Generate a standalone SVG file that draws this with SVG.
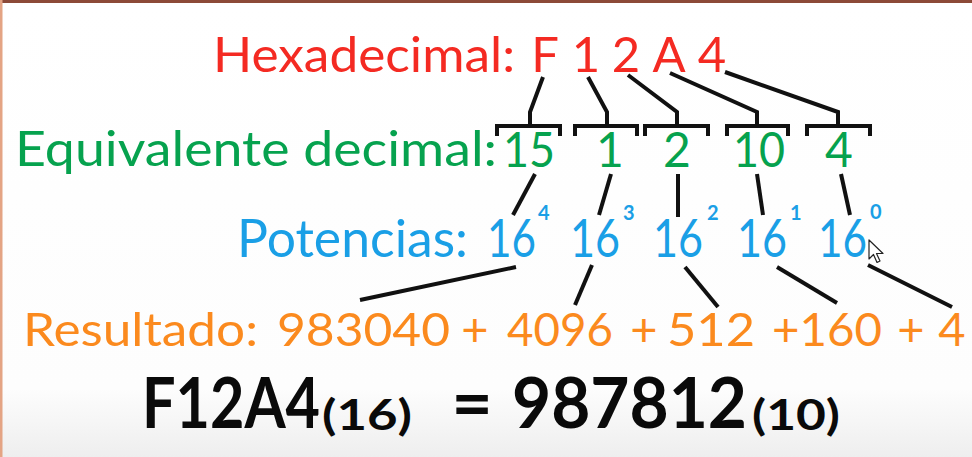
<svg xmlns="http://www.w3.org/2000/svg" width="972" height="457" viewBox="0 0 972 457">
<defs>
<linearGradient id="bg" x1="0" y1="0" x2="0" y2="1">
<stop offset="0" stop-color="#ffffff"/>
<stop offset="0.85" stop-color="#fdfdfd"/>
<stop offset="1" stop-color="#eeeeee"/>
</linearGradient>
</defs>
<style>
text{font-family:Lato,"Noto Sans","Liberation Sans",sans-serif}
.red{fill:#f42a22;font-size:49px}
.green{fill:#06a24e;font-size:48px}
.blue{fill:#1a9fe6;font-size:52px}
.sup{fill:#1a9fe6;font-size:20px;font-weight:700}
.orange{fill:#fb8a1e;font-size:47px}
.big{fill:#0a0a0a;font-size:71px;font-weight:700}
.small{fill:#0a0a0a;font-size:42px;font-weight:700}
.c{text-anchor:middle}
.ln{stroke:#111;stroke-width:4;fill:none;stroke-linejoin:miter}
</style>
<rect x="0" y="0" width="972" height="457" fill="url(#bg)"/>
<rect x="0" y="0" width="972" height="3" fill="#8c4a38"/>
<rect x="0" y="0" width="2.5" height="457" fill="#e4a484"/>

<g id="hex-row">
<text class="red" x="213" y="72" textLength="302" lengthAdjust="spacingAndGlyphs">Hexadecimal:</text>
<text class="red c" x="545" y="72">F</text>
<text class="red c" x="586" y="72">1</text>
<text class="red c" x="626" y="72">2</text>
<text class="red c" x="669" y="72">A</text>
<text class="red c" x="712" y="72">4</text>
</g>

<g id="dec-row">
<text class="green" x="15" y="166" textLength="482" lengthAdjust="spacingAndGlyphs">Equivalente decimal:</text>
<text class="green" x="503" y="167" textLength="52" lengthAdjust="spacingAndGlyphs">15</text>
<text class="green c" x="610" y="167">1</text>
<text class="green c" x="677" y="167">2</text>
<text class="green" x="733" y="167" textLength="52" lengthAdjust="spacingAndGlyphs">10</text>
<text class="green c" x="839" y="167">4</text>
</g>

<g id="pow-row">
<text class="blue" x="237" y="257" textLength="231" lengthAdjust="spacingAndGlyphs">Potencias:</text>
<text class="blue" x="487" y="257" textLength="49" lengthAdjust="spacingAndGlyphs">16</text>
<text class="sup" x="538" y="220">4</text>
<text class="blue" x="570" y="257" textLength="50" lengthAdjust="spacingAndGlyphs">16</text>
<text class="sup" x="623" y="220">3</text>
<text class="blue" x="653" y="257" textLength="50" lengthAdjust="spacingAndGlyphs">16</text>
<text class="sup" x="707" y="220">2</text>
<text class="blue" x="737" y="257" textLength="50" lengthAdjust="spacingAndGlyphs">16</text>
<text class="sup" x="790" y="220">1</text>
<text class="blue" x="818" y="257" textLength="49" lengthAdjust="spacingAndGlyphs">16</text>
<text class="sup" x="870" y="219">0</text>
</g>

<g id="result-row">
<text class="orange" x="23" y="346" textLength="235" lengthAdjust="spacingAndGlyphs">Resultado:</text>
<text class="orange" x="277" y="346" textLength="173" lengthAdjust="spacingAndGlyphs">983040</text>
<text class="orange c" x="475" y="346">+</text>
<text class="orange" x="507" y="346" textLength="106" lengthAdjust="spacingAndGlyphs">4096</text>
<text class="orange c" x="644" y="346">+</text>
<text class="orange" x="667" y="346" textLength="88" lengthAdjust="spacingAndGlyphs">512</text>
<text class="orange" x="772" y="346" textLength="110" lengthAdjust="spacingAndGlyphs">+160</text>
<text class="orange c" x="911" y="346">+</text>
<text class="orange c" x="952" y="346">4</text>
</g>

<g id="equation">
<text class="big" x="142" y="428" textLength="178" lengthAdjust="spacingAndGlyphs">F12A4</text>
<text class="small" x="322" y="430" textLength="90" lengthAdjust="spacingAndGlyphs">(16)</text>
<text class="big c" x="472" y="428">=</text>
<text class="big" x="512" y="428" textLength="235" lengthAdjust="spacingAndGlyphs">987812</text>
<text class="small" x="752" y="430" textLength="88" lengthAdjust="spacingAndGlyphs">(10)</text>
</g>

<g id="connectors">
<path class="ln" d="M497,136 V126 H560 V136 M530,126 V112 L543,77"/>
<path class="ln" d="M575,136 V126 H637 V136 M607,126 V112 L588,77"/>
<path class="ln" d="M645,136 V126 H708 V136 M677,126 V112 L628,75"/>
<path class="ln" d="M727,136 V126 H788 V136 M757,126 V112 L670,73"/>
<path class="ln" d="M807,136 V126 H870 V136 M838,126 V112 L725,72"/>
<line class="ln" x1="535" y1="174" x2="513" y2="215"/>
<line class="ln" x1="611" y1="174" x2="599" y2="215"/>
<line class="ln" x1="678" y1="174" x2="678" y2="217"/>
<line class="ln" x1="757" y1="174" x2="763" y2="215"/>
<line class="ln" x1="841" y1="174" x2="850" y2="215"/>
<line class="ln" x1="516" y1="267" x2="360" y2="300"/>
<line class="ln" x1="592" y1="265" x2="575" y2="305"/>
<line class="ln" x1="685" y1="267" x2="718" y2="307"/>
<line class="ln" x1="777" y1="267" x2="837" y2="303"/>
<line class="ln" x1="868" y1="265" x2="952" y2="307"/>
</g>

<g id="cursor">
<path d="M869,240 V259 L873.5,254.5 L877,262.5 L880,261 L876.5,253.5 L883,253.5 Z" fill="#ffffff" stroke="#222" stroke-width="1.2" stroke-linejoin="round"/>
</g>
</svg>
